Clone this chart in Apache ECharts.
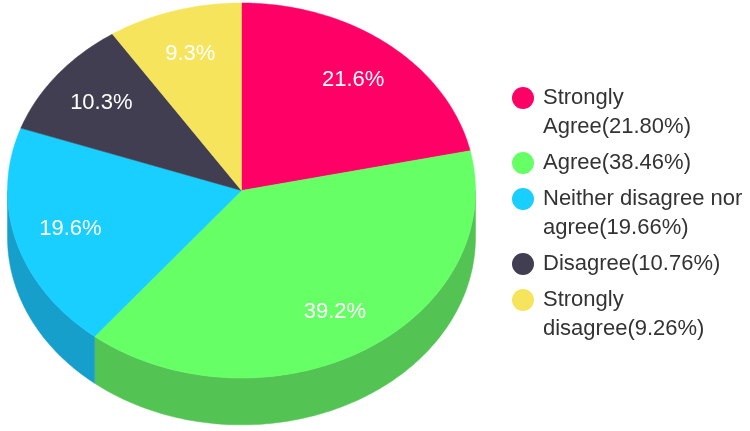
<!DOCTYPE html>
<html>
<head>
<meta charset="utf-8">
<script src="https://cdn.jsdelivr.net/npm/echarts@6/dist/echarts.min.js"></script>
<style>
  html, body { margin: 0; padding: 0; background: #fff; }
  #main { width: 750px; height: 431px; }
</style>
</head>
<body>
<div id="main"></div>
<script>
// 图例文字
const legendNames = [
  'Strongly\nAgree(21.80%)',
  'Agree(38.46%)',
  'Neither disagree nor\nagree(19.66%)',
  'Disagree(10.76%)',
  'Strongly\ndisagree(9.26%)'
]
// 扇区占比 (%)
const values = [21.6, 39.2, 19.6, 10.3, 9.3]
const colors = ['#ff0066', '#66ff66', '#19cfff', '#403e50', '#f6e55c']
const sideColors = ['#c80050', '#53c453', '#179fcc', '#32303f', '#c4b84a']

const FONT = "'Liberation Sans', Arial, sans-serif"
const DEPTH = 0.25 // 饼的厚度 (y轴单位)
const LABEL_R = 0.76

const total = values.reduce((a, b) => a + b, 0)
const starts = []
values.reduce((acc, v) => { starts.push(acc); return acc + v }, 0)

function arcPoints (api, a0, a1) {
  const pts = []
  const n = Math.max(2, Math.ceil(a1 - a0))
  for (let i = 0; i <= n; i++) {
    const a = (a0 + (a1 - a0) * i / n) * Math.PI / 180
    pts.push(api.coord([Math.sin(a), Math.cos(a)]))
  }
  return pts
}

function renderSlice (params, api) {
  const start = api.value(0)
  const share = api.value(1)
  const a0 = start / total * 360
  const a1 = (start + share) / total * 360
  const idx = params.seriesIndex
  const children = []
  const depth = api.size([0, DEPTH])[1]
  // 侧面 (只画朝前的部分)
  const s0 = Math.max(a0, 90)
  const s1 = Math.min(a1, 270)
  if (s1 > s0) {
    const top = arcPoints(api, s0, s1)
    const bottom = top.map(p => [p[0], p[1] + depth]).reverse()
    children.push({
      type: 'polygon',
      z2: 1,
      shape: { points: top.concat(bottom) },
      style: { fill: sideColors[idx], stroke: sideColors[idx], lineWidth: 0.5 }
    })
  }
  // 顶面
  const center = api.coord([0, 0])
  children.push({
    type: 'polygon',
    z2: 10,
    shape: { points: [center].concat(arcPoints(api, a0, a1)) },
    style: { fill: colors[idx], stroke: colors[idx], lineWidth: 0.5 }
  })
  // 标签
  const mid = (a0 + a1) / 2 * Math.PI / 180
  const lp = api.coord([LABEL_R * Math.sin(mid), LABEL_R * Math.cos(mid)])
  children.push({
    type: 'text',
    z2: 20,
    x: lp[0],
    y: lp[1],
    style: {
      text: share.toFixed(1) + '%',
      fill: '#fff',
      font: '22px ' + FONT,
      align: 'center',
      verticalAlign: 'middle'
    }
  })
  return { type: 'group', children }
}

// 图例位置: 标记对齐第一行文字 (多行时前面加一个空行)
const legends = []
let markY = 98
legendNames.forEach((name, i) => {
  const lines = name.split('\n').length
  legends.push({
    data: [name],
    left: 512,
    top: lines > 1 ? markY - 43.5 : markY - 14.5,
    padding: 0,
    icon: 'circle',
    itemWidth: 22,
    itemHeight: 22,
    selectedMode: false,
    formatter: n => (lines > 1 ? '\n' + n : n),
    textStyle: {
      fontSize: 22,
      lineHeight: 29,
      color: '#333',
      fontFamily: FONT,
      padding: [0, 0, 0, 4]
    }
  })
  markY += (lines - 1) * 29 + 36
})

const chart = echarts.init(document.getElementById('main'))
chart.setOption({
  animation: false,
  grid: { left: 7.5, top: 3, width: 468, height: 375 },
  xAxis: { type: 'value', min: -1, max: 1, show: false },
  yAxis: { type: 'value', min: -1, max: 1, show: false },
  legend: legends,
  series: legendNames.map((name, i) => ({
    name,
    type: 'custom',
    coordinateSystem: 'cartesian2d',
    renderItem: renderSlice,
    itemStyle: { color: colors[i] },
    data: [[starts[i], values[i]]]
  }))
})
</script>
</body>
</html>
